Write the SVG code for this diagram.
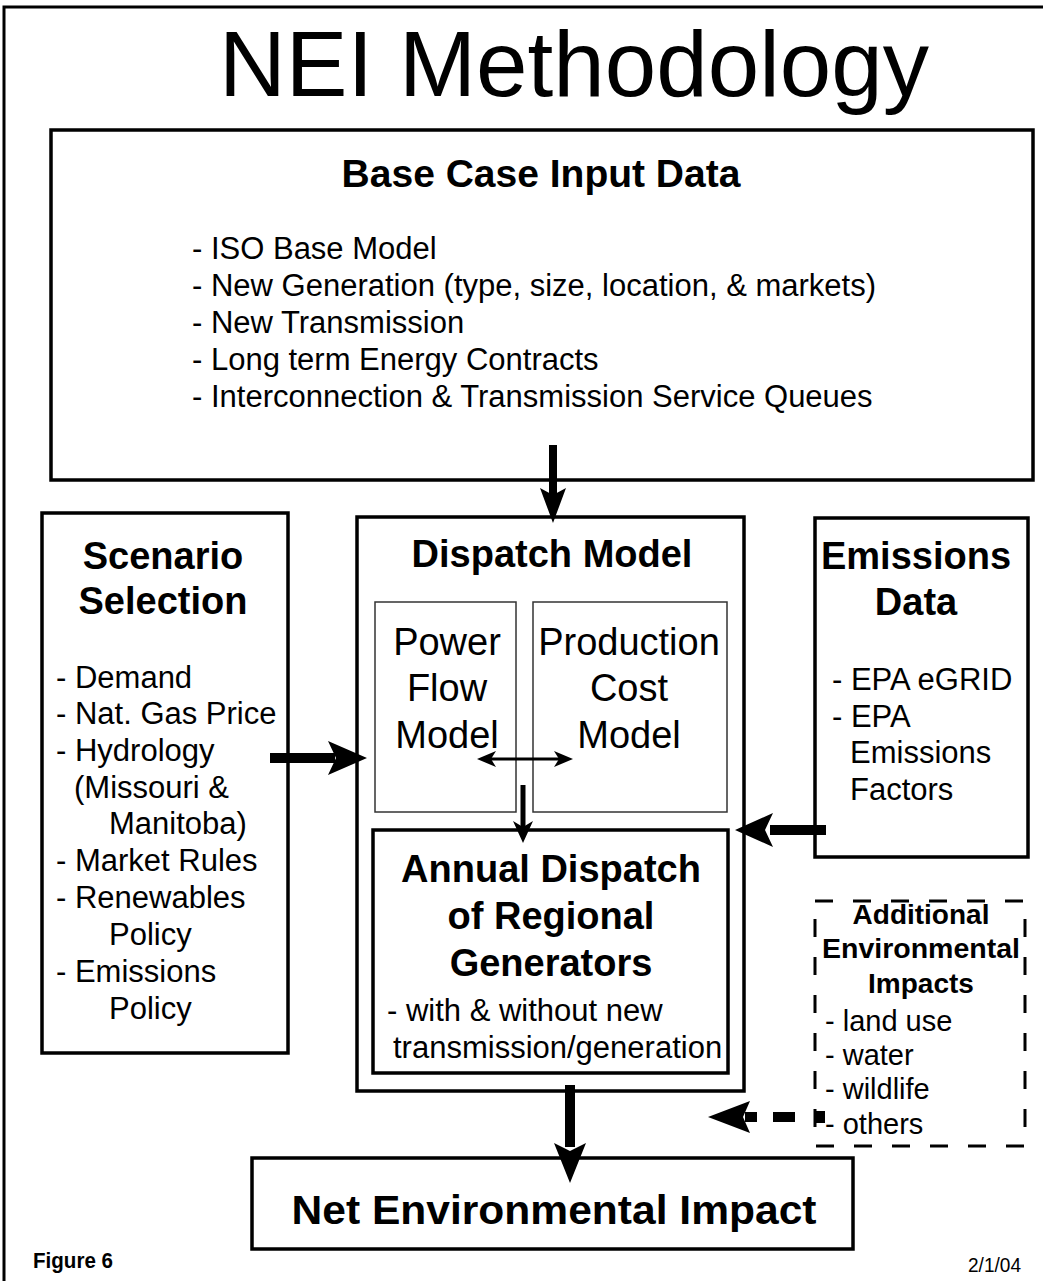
<svg xmlns="http://www.w3.org/2000/svg" width="1043" height="1281" viewBox="0 0 1043 1281">
<style>
text{font-family:"Liberation Sans",Arial,sans-serif;fill:#000}
.b{font-weight:bold}
.box{fill:none;stroke:#000;stroke-width:3.5}
.thin{fill:none;stroke:#333;stroke-width:1.5}
.dash{fill:none;stroke:#000;stroke-width:3;stroke-dasharray:18 20}
.c{text-anchor:middle}
.h{font-size:38px;font-weight:bold}
.l{font-size:31px}
</style>
<rect width="1043" height="1281" fill="#fff"/>
<rect x="4" y="7" width="1060" height="1300" fill="none" stroke="#000" stroke-width="3"/>
<text x="219" y="96" font-size="92" textLength="710" lengthAdjust="spacingAndGlyphs">NEI Methodology</text>

<g id="base-case">
<rect class="box" x="51" y="130" width="982" height="350"/>
<text class="c b" x="541" y="187" font-size="39">Base Case Input Data</text>
<text class="l" x="192" y="259">- ISO Base Model</text>
<text class="l" x="192" y="296">- New Generation (type, size, location, &amp; markets)</text>
<text class="l" x="192" y="333">- New Transmission</text>
<text class="l" x="192" y="370">- Long term Energy Contracts</text>
<text class="l" x="192" y="407">- Interconnection &amp; Transmission Service Queues</text>
</g>

<g id="scenario-selection">
<rect class="box" x="42" y="513" width="246" height="540"/>
<text class="c h" x="163" y="569">Scenario</text>
<text class="c h" x="163" y="614">Selection</text>
<text class="l" x="56" y="688">- Demand</text>
<text class="l" x="56" y="724">- Nat. Gas Price</text>
<text class="l" x="56" y="761">- Hydrology</text>
<text class="l" x="74" y="798">(Missouri &amp;</text>
<text class="l" x="109" y="834">Manitoba)</text>
<text class="l" x="56" y="871">- Market Rules</text>
<text class="l" x="56" y="908">- Renewables</text>
<text class="l" x="109" y="945">Policy</text>
<text class="l" x="56" y="982">- Emissions</text>
<text class="l" x="109" y="1019">Policy</text>
</g>

<g id="dispatch-model">
<rect class="box" x="357" y="517" width="387" height="574"/>
<text class="c h" x="552" y="567">Dispatch Model</text>
</g>

<g id="power-flow-model">
<rect class="thin" x="375" y="602" width="141" height="210"/>
<text class="c" x="447" y="655" font-size="38">Power</text>
<text class="c" x="447" y="701" font-size="38">Flow</text>
<text class="c" x="447" y="748" font-size="38">Model</text>
</g>

<g id="production-cost-model">
<rect class="thin" x="533" y="602" width="194" height="210"/>
<text class="c" x="629" y="655" font-size="38">Production</text>
<text class="c" x="629" y="701" font-size="38">Cost</text>
<text class="c" x="629" y="748" font-size="38">Model</text>
</g>

<g id="annual-dispatch">
<rect class="box" x="373" y="830" width="355" height="243" stroke-width="4"/>
<text class="c h" x="551" y="882">Annual Dispatch</text>
<text class="c h" x="551" y="929">of Regional</text>
<text class="c h" x="551" y="976">Generators</text>
<text class="l" x="387" y="1021">- with &amp; without new</text>
<text class="l" x="393" y="1058">transmission/generation</text>
</g>

<g id="emissions-data">
<rect class="box" x="815" y="518" width="213" height="339"/>
<text class="c h" x="916" y="569">Emissions</text>
<text class="c h" x="916" y="615">Data</text>
<text class="l" x="832" y="690">- EPA eGRID</text>
<text class="l" x="832" y="727">- EPA</text>
<text class="l" x="850" y="763">Emissions</text>
<text class="l" x="850" y="800">Factors</text>
</g>

<g id="additional-impacts">
<rect class="dash" x="815" y="901" width="210" height="245"/>
<text class="c b" x="921" y="924" font-size="28">Additional</text>
<text class="c b" x="921" y="958" font-size="28" textLength="198" lengthAdjust="spacingAndGlyphs">Environmental</text>
<text class="c b" x="921" y="993" font-size="28">Impacts</text>
<text x="825" y="1031" font-size="29">- land use</text>
<text x="825" y="1065" font-size="29">- water</text>
<text x="825" y="1099" font-size="29">- wildlife</text>
<text x="825" y="1134" font-size="29">- others</text>
</g>

<g id="net-impact">
<rect class="box" x="252" y="1158" width="601" height="91"/>
<text class="c b" x="554" y="1224" font-size="41" textLength="525" lengthAdjust="spacingAndGlyphs">Net Environmental Impact</text>
</g>

<text class="b" x="33" y="1268" font-size="22" textLength="80" lengthAdjust="spacingAndGlyphs">Figure 6</text>
<text x="968" y="1272" font-size="20" textLength="53" lengthAdjust="spacingAndGlyphs">2/1/04</text>

<g id="connectors" fill="#000">
<rect x="549" y="445" width="8" height="50"/>
<polygon points="553,523 540,488 553,495 566,488"/>
<rect x="270" y="753" width="65" height="10"/>
<polygon points="367,758 328,741 336,758 328,775"/>
<rect x="770" y="825" width="56" height="10"/>
<polygon points="735,830 773,813 765,830 773,847"/>
<rect x="565" y="1085" width="10" height="62"/>
<polygon points="570,1183 554,1143 570,1151 586,1143"/>
<line x1="487" y1="759" x2="562" y2="759" stroke="#000" stroke-width="3"/>
<polygon points="477,759 496,751 491,759 496,767"/>
<polygon points="573,759 554,751 559,759 554,767"/>
<line x1="523" y1="785" x2="523" y2="828" stroke="#000" stroke-width="5"/>
<polygon points="523,843 513,821 523,827 533,821"/>
<polygon points="708,1117 750,1101 743,1117 750,1133"/>
<rect x="745" y="1112" width="12" height="10"/>
<rect x="773" y="1112" width="22" height="10"/>
<rect x="815" y="1111" width="10" height="12"/>
</g>
</svg>
